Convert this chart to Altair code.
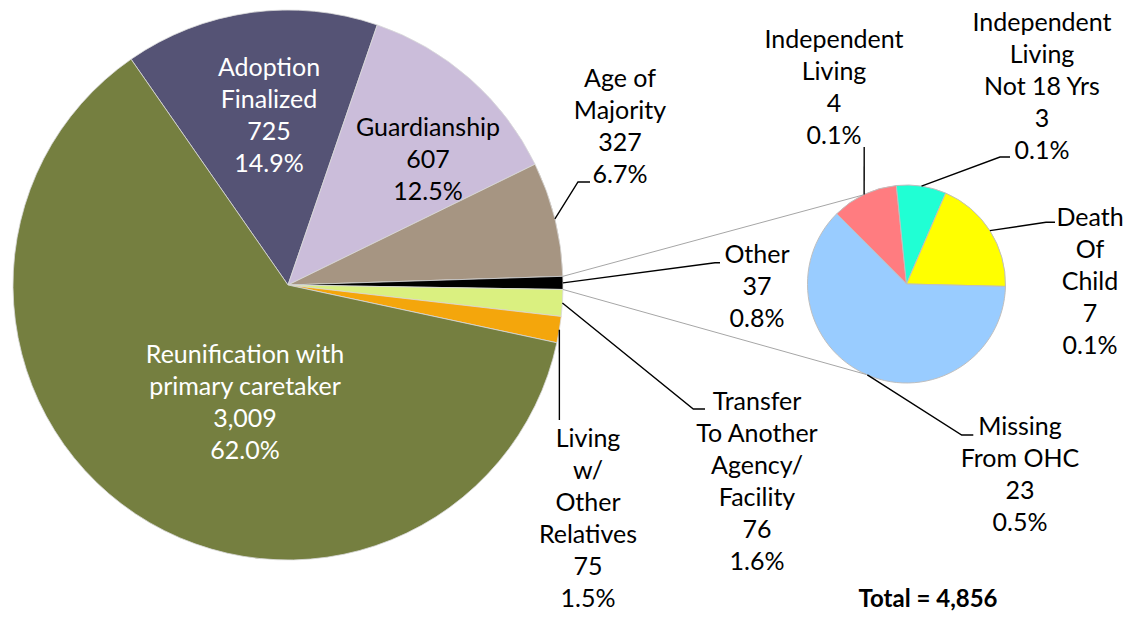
import math
import altair as alt
import pandas as pd

# ---------------- data ----------------
main_cats = ["Adoption Finalized", "Guardianship", "Age of Majority", "Other",
             "Transfer To Another Agency/ Facility", "Living w/ Other Relatives",
             "Reunification with primary caretaker"]
main_vals = [725, 607, 327, 37, 76, 75, 3009]
main_label_lines = [["Adoption", "Finalized"], ["Guardianship"], ["Age of", "Majority"], ["Other"],
                    ["Transfer", "To Another", "Agency/", "Facility"],
                    ["Living", "w/", "Other", "Relatives"],
                    ["Reunification with", "primary caretaker"]]

sub_cats = ["Independent Living", "Independent Living Not 18 Yrs", "Death Of Child", "Missing From OHC"]
sub_vals = [4, 3, 7, 23]
sub_label_lines = [["Independent", "Living"], ["Independent", "Living", "Not 18 Yrs"],
                   ["Death", "Of", "Child"], ["Missing", "From OHC"]]

total = 4856

# ---------------- styles ----------------
main_colors = ["#555375", "#CBBDDA", "#A69582", "#000000", "#DAF080", "#F4A60C", "#757F40"]
main_text_colors = ["white", "black", "black", "black", "black", "black", "white"]
sub_colors = ["#FF7C80", "#20FFD4", "#FFFF00", "#99CCFF"]
FONT = "Lato"
FS = 25
LH = 32

# ---------------- layout (image pixel coordinates; y = first text line centre) ----------------
W, H = 1117, 603
MAIN_C, MAIN_R, MAIN_START = (288.0, 285.0), 275.0, 325.2
SUB_C, SUB_R, SUB_START = (906.5, 284.0), 99.0, 315.2
main_label_pos = [(269, 68.3), (428, 128.3), (620, 79), (757, 255), (757, 401.7), (588, 438.5), (245, 355)]
sub_label_pos = [(834, 40), (1042, 23), (1090, 218), (1020, 426.7)]
main_leaders = {2: [(578, 182), (590, 182)], 3: [(715, 262.7), (720, 262.7)],
                4: [(693.3, 409), (705, 409)], 5: [(559.4, 420)]}
sub_leaders = {0: [(864.2, 147)], 1: [(1000, 157), (1010, 157)],
               2: [(1046, 222.3), (1055, 222.3)], 3: [(961.7, 435), (973.3, 435)]}
connector_sub_angles = [334.1, 203.9]
TOTAL_POS = (928, 600)


def pt(c, r, deg):
    a = math.radians(deg)
    return (c[0] + r * math.sin(a), c[1] - r * math.cos(a))


def mids(vals, start):
    s = sum(vals)
    out, cum = [], 0
    for v in vals:
        out.append(start + (cum + v / 2) / s * 360)
        cum += v
    return out


def edges(vals, start, i):
    s = sum(vals)
    cum = sum(vals[:i])
    return start + cum / s * 360, start + (cum + vals[i]) / s * 360


xs = alt.Scale(domain=[8, 8 + W], range=[0, W], nice=False, zero=False)
ys = alt.Scale(domain=[8, 8 + H], range=[0, H], nice=False, zero=False)

# ---------------- pies ----------------
main_df = pd.DataFrame({"cat": main_cats, "v": main_vals, "idx": range(len(main_vals))})
sub_df = pd.DataFrame({"scat": sub_cats, "sv": sub_vals, "sidx": range(len(sub_vals))})

ms = math.radians(MAIN_START)
main_pie = alt.Chart(main_df).mark_arc(radius=MAIN_R, stroke="#D9D9D9", strokeWidth=0.8).encode(
    theta=alt.Theta("v:Q", stack=True, scale=alt.Scale(range=[ms, ms + 2 * math.pi])),
    color=alt.Color("cat:N", scale=alt.Scale(domain=main_cats, range=main_colors), legend=None),
    order=alt.Order("idx:Q"),
    x=alt.value(MAIN_C[0] - 8), y=alt.value(MAIN_C[1] - 8),
)

ss = math.radians(SUB_START)
sub_pie = alt.Chart(sub_df).mark_arc(radius=SUB_R, stroke="#BFBFBF", strokeWidth=1).encode(
    theta=alt.Theta("sv:Q", stack=True, scale=alt.Scale(range=[ss, ss + 2 * math.pi])),
    color=alt.Color("scat:N", scale=alt.Scale(domain=sub_cats, range=sub_colors), legend=None),
    order=alt.Order("sidx:Q"),
    x=alt.value(SUB_C[0] - 8), y=alt.value(SUB_C[1] - 8),
)

# ---------------- connectors ----------------
e0, e1 = edges(main_vals, MAIN_START, 3)
conn_rows = []
for k, (me, sa) in enumerate([(e0, connector_sub_angles[0]), (e1, connector_sub_angles[1])]):
    p0 = pt(MAIN_C, MAIN_R, me)
    p1 = pt(SUB_C, SUB_R, sa)
    conn_rows += [{"id": k, "o": 0, "x": p0[0], "y": p0[1]}, {"id": k, "o": 1, "x": p1[0], "y": p1[1]}]
conn = alt.Chart(pd.DataFrame(conn_rows)).mark_line(color="#A6A6A6", strokeWidth=1).encode(
    x=alt.X("x:Q", scale=xs, axis=None), y=alt.Y("y:Q", scale=ys, axis=None),
    detail="id:N", order="o:Q")

# ---------------- leader lines ----------------
lead_rows = []
mm = mids(main_vals, MAIN_START)
for i, pts in main_leaders.items():
    p0 = pt(MAIN_C, MAIN_R, mm[i])
    for j, p in enumerate([p0] + pts):
        lead_rows.append({"id": f"m{i}", "o": j, "x": p[0], "y": p[1]})
sm = mids(sub_vals, SUB_START)
for i, pts in sub_leaders.items():
    p0 = pt(SUB_C, SUB_R, sm[i])
    for j, p in enumerate([p0] + pts):
        lead_rows.append({"id": f"s{i}", "o": j, "x": p[0], "y": p[1]})
leaders = alt.Chart(pd.DataFrame(lead_rows)).mark_line(color="black", strokeWidth=1.4).encode(
    x=alt.X("x:Q", scale=xs, axis=None), y=alt.Y("y:Q", scale=ys, axis=None),
    detail="id:N", order="o:Q")

# ---------------- labels ----------------
lab_rows = []
for lines, v, pos, tc in zip(main_label_lines, main_vals, main_label_pos, main_text_colors):
    all_lines = lines + [f"{v:,}", f"{v / total * 100:.1f}%"]
    lab_rows.append({"t": "\n".join(all_lines), "x": pos[0], "y": pos[1], "c": tc})
for lines, v, pos in zip(sub_label_lines, sub_vals, sub_label_pos):
    all_lines = lines + [f"{v:,}", f"{v / total * 100:.1f}%"]
    lab_rows.append({"t": "\n".join(all_lines), "x": pos[0], "y": pos[1], "c": "black"})

labels = alt.Chart(pd.DataFrame(lab_rows)).mark_text(
    font=FONT, fontSize=FS, lineHeight=LH, lineBreak="\n", align="center", baseline="middle"
).encode(
    x=alt.X("x:Q", scale=xs, axis=None), y=alt.Y("y:Q", scale=ys, axis=None),
    text="t:N", color=alt.Color("c:N", scale=None))

total_df = pd.DataFrame({"t": [f"Total = {total:,}"], "x": [TOTAL_POS[0]], "y": [TOTAL_POS[1]]})
total_txt = alt.Chart(total_df).mark_text(
    font=FONT, fontSize=24, fontWeight="bold", align="center", baseline="middle", color="black"
).encode(x=alt.X("x:Q", scale=xs, axis=None), y=alt.Y("y:Q", scale=ys, axis=None), text="t:N")

chart = alt.layer(main_pie, sub_pie, conn, leaders, labels, total_txt).resolve_scale(
    theta="independent", color="independent"
).properties(width=W, height=H, padding=0, autosize=alt.AutoSizeParams(type="none")).configure_view(stroke=None)

chart.save("out.html", embed_options={"renderer": "svg", "actions": False})
